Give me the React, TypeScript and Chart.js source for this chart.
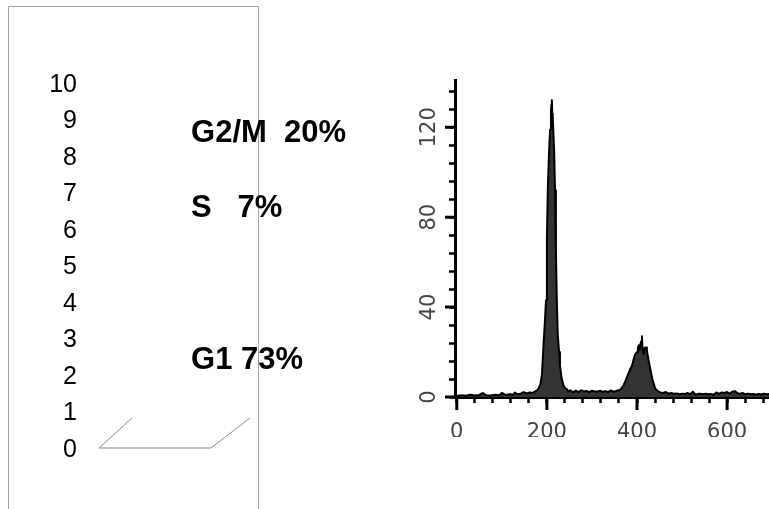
import React, { useEffect, useRef } from 'react';
import { Chart, registerables } from 'chart.js';

Chart.register(...registerables);

// Left panel: scale 0..10 with phase percentages
const phaseLabels = ['G2/M  20%', 'S   7%', 'G1 73%'];
const phaseLevels = [8.68, 6.63, 2.45];
const floorX = [30.4, 12.2, 74.0, 95.6];
const floorY = [0.877, 0.055, 0.055, 0.877];

// Right panel: DNA content histogram
const xMajorTicks = [0, 200, 400, 600];
const yMajorTicks = [0, 40, 80, 120];
const histX = [
  0, 10, 20, 30, 40, 50, 58, 65, 75, 85, 95, 100, 108, 118, 125, 129, 135, 142, 148, 155,
  162, 168, 174, 178, 182, 186, 189, 193, 196, 198, 200, 202, 204, 207, 209, 210, 211, 212, 213, 216,
  218, 220, 222, 224, 227, 229, 233, 237, 240, 244, 247, 252, 258, 264, 270, 276, 282, 288, 294, 300,
  306, 312, 318, 324, 330, 336, 342, 348, 354, 360, 364, 368, 372, 376, 380, 384, 389, 393, 396, 400,
  402, 404, 406, 408, 410, 411, 412, 413, 415, 418, 420, 422, 424, 427, 431, 434, 437, 440, 444, 447,
  452, 458, 464, 470, 476, 482, 488, 494, 500, 506, 512, 518, 524, 530, 536, 540, 546, 552, 558, 564,
  570, 576, 582, 588, 594, 600, 606, 612, 618, 622, 628, 634, 640, 646, 652, 658, 664, 670, 676, 682,
  688, 693,
];
const histY = [
  0.5, 0.8, 0.6, 1.0, 0.7, 0.9, 1.8, 0.8, 0.7, 1.0, 0.8, 1.8, 0.9, 1.2, 1.0, 2.0, 1.2, 1.5, 2.2, 1.6,
  2.0, 1.8, 2.5, 3.0, 4.0, 6, 10, 25, 35, 43, 70, 92, 105, 119, 127, 130, 132, 126, 124, 110,
  92, 65, 43, 28, 20, 14, 8, 5, 4, 3.5, 2.5, 3.0, 2.0, 2.8, 2.2, 3.0, 2.5, 2.7, 2.2, 2.8,
  2.5, 2.4, 2.8, 2.3, 2.6, 2.2, 2.9, 2.4, 2.7, 3.0, 3.5, 4.5, 6, 8, 10, 12, 14, 17, 19, 20,
  22, 23, 21, 24, 25, 27, 22, 20, 19, 22, 22, 21, 18, 15, 11, 8, 6, 4, 3, 2.5,
  2, 1.8, 2.2, 1.5, 1.8, 1.4, 1.6, 1.2, 1.5, 1.3, 1.8, 1.2, 2.4, 1.0, 1.4, 1.5, 1.2, 1.5, 1.2, 1.3,
  1.0, 2.0, 1.4, 2.0, 1.8, 2.2, 1.5, 2.4, 2.6, 1.8, 1.4, 1.8, 1.2, 1.5, 1.2, 1.3, 1.0, 1.4, 1.1, 1.5,
  1.2, 1.3,
];

const leftDecor = {
  id: 'leftDecor',
  beforeDraw(chart: any) {
    const ctx = chart.ctx;
    ctx.save();
    ctx.strokeStyle = '#a3a3a3';
    ctx.lineWidth = 1;
    ctx.beginPath();
    ctx.moveTo(8.5, 509);
    ctx.lineTo(8.5, 6.5);
    ctx.lineTo(258.5, 6.5);
    ctx.lineTo(258.5, 509);
    ctx.stroke();
    ctx.restore();
  },
  afterDraw(chart: any) {
    const ctx = chart.ctx;
    const { x, y } = chart.scales;
    ctx.save();
    ctx.fillStyle = '#000';
    ctx.font = 'bold 31px "Liberation Sans", Arial, sans-serif';
    ctx.textAlign = 'left';
    ctx.textBaseline = 'middle';
    phaseLabels.forEach((t, i) => {
      ctx.fillText(t, x.getPixelForValue(63), y.getPixelForValue(phaseLevels[i]));
    });
    ctx.restore();
  },
};

const majorTicks = {
  id: 'majorTicks',
  afterDraw(chart: any) {
    const { ctx, chartArea } = chart;
    const { x, y } = chart.scales;
    ctx.save();
    ctx.strokeStyle = '#000';
    ctx.lineWidth = 3;
    ctx.beginPath();
    xMajorTicks.forEach((v) => {
      const px = x.getPixelForValue(v);
      ctx.moveTo(px, chartArea.bottom);
      ctx.lineTo(px, chartArea.bottom + 13);
    });
    yMajorTicks.forEach((v) => {
      const py = y.getPixelForValue(v);
      ctx.moveTo(chartArea.left, py);
      ctx.lineTo(chartArea.left - 10, py);
    });
    ctx.stroke();
    ctx.restore();
  },
};

export default function App() {
  const leftRef = useRef<HTMLCanvasElement>(null);
  const rightRef = useRef<HTMLCanvasElement>(null);

  useEffect(() => {
    const left = new Chart(leftRef.current!, {
      type: 'line',
      data: {
        datasets: [
          {
            data: floorX.map((v, i) => ({ x: v, y: floorY[i] })),
            borderColor: '#8a8a8a',
            borderWidth: 1,
            pointRadius: 0,
            fill: false,
            tension: 0,
          },
        ],
      },
      options: {
        responsive: false,
        animation: false,
        devicePixelRatio: 1,
        events: [],
        layout: { padding: { left: 40, top: 85, right: 511, bottom: 59 } },
        plugins: { legend: { display: false }, tooltip: { enabled: false } },
        scales: {
          x: { type: 'linear', display: false, min: 0, max: 100 },
          y: {
            type: 'linear',
            min: 0,
            max: 10,
            position: 'left',
            afterFit: (s: any) => {
              s.width = 37;
            },
            grid: { display: false, drawTicks: false },
            border: { display: false },
            ticks: {
              stepSize: 1,
              padding: 0,
              color: '#000',
              font: { family: '"Liberation Sans", Arial, sans-serif', size: 25 },
            },
          },
        },
      } as any,
      plugins: [leftDecor],
    });

    const right = new Chart(rightRef.current!, {
      type: 'line',
      data: {
        datasets: [
          {
            data: histX.map((v, i) => ({ x: v, y: histY[i] })),
            borderColor: '#000',
            borderWidth: 2,
            borderJoinStyle: 'round',
            backgroundColor: '#333333',
            fill: 'origin',
            pointRadius: 0,
            tension: 0,
          },
        ],
      },
      options: {
        responsive: false,
        animation: false,
        devicePixelRatio: 1,
        events: [],
        layout: { padding: { left: 415, top: 80, right: 0, bottom: 72 } },
        plugins: { legend: { display: false }, tooltip: { enabled: false } },
        scales: {
          x: {
            type: 'linear',
            min: -4,
            max: 693,
            afterFit: (s: any) => {
              s.height = 40;
              s.paddingRight = 0;
              s.paddingLeft = 0;
            },
            grid: { drawOnChartArea: false, tickLength: 6, tickWidth: 2.5, tickColor: '#000' },
            border: { color: '#000', width: 3 },
            ticks: {
              stepSize: 40,
              includeBounds: false,
              autoSkip: false,
              maxRotation: 0,
              minRotation: 0,
              padding: 17,
              color: '#444',
              font: { family: '"DejaVu Sans", sans-serif', size: 21 },
              callback: (v: any) => (xMajorTicks.includes(v) ? String(v) : ''),
            },
          },
          y: {
            type: 'linear',
            min: 0,
            max: 141,
            afterFit: (s: any) => {
              s.width = 40;
              s.paddingTop = 0;
              s.paddingBottom = 0;
            },
            grid: { drawOnChartArea: false, tickLength: 6, tickWidth: 2.5, tickColor: '#000' },
            border: { color: '#000', width: 3 },
            ticks: {
              stepSize: 8,
              includeBounds: false,
              autoSkip: false,
              minRotation: 90,
              maxRotation: 90,
              crossAlign: 'center',
              padding: -1,
              color: '#444',
              font: { family: '"DejaVu Sans", sans-serif', size: 21 },
              callback: (v: any) => (yMajorTicks.includes(v) ? String(v) : ''),
            },
          },
        },
      } as any,
      plugins: [majorTicks],
    });

    return () => {
      left.destroy();
      right.destroy();
    };
  }, []);

  return (
    <div style={{ position: 'fixed', left: 0, top: 0, width: 769, height: 509, background: '#fff' }}>
      <canvas ref={leftRef} width={769} height={509} style={{ position: 'absolute', left: 0, top: 0 }} />
      <canvas ref={rightRef} width={769} height={509} style={{ position: 'absolute', left: 0, top: 0 }} />
    </div>
  );
}
